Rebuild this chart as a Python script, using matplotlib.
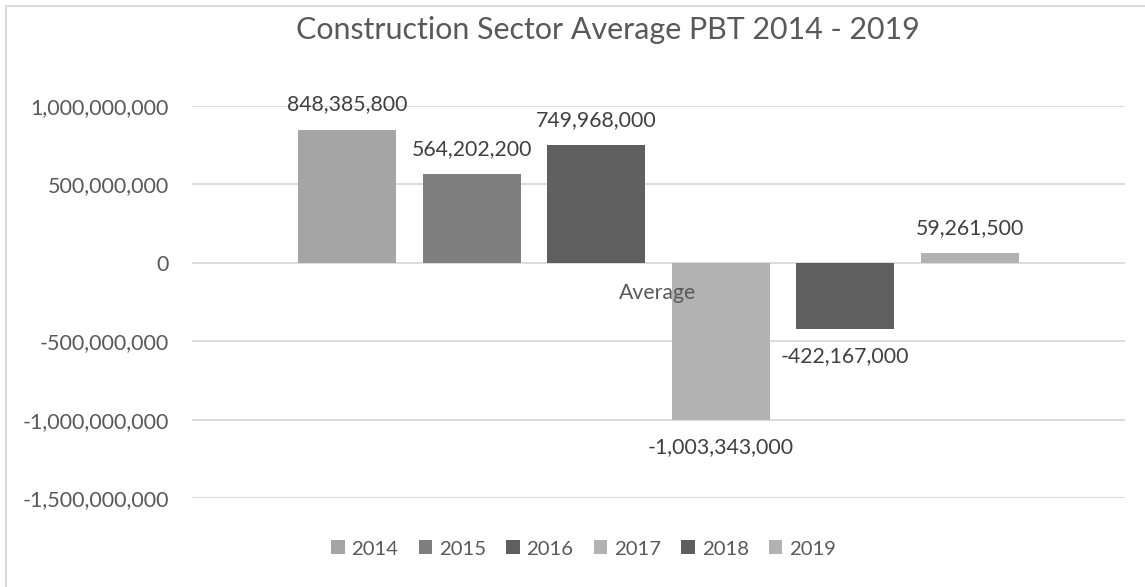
import numpy as np
import matplotlib.pyplot as plt
from matplotlib.ticker import FuncFormatter
from matplotlib.lines import Line2D

# Data
years = ['2014', '2015', '2016', '2017', '2018', '2019']
pbt = [848385800, 564202200, 749968000, -1003343000, -422167000, 59261500]
category = 'Average'
bar_colors = ['#A5A5A5', '#7F7F7F', '#5F5F5F', '#B2B2B2', '#5F5F5F', '#B2B2B2']

txt = '#595959'
grid = '#D9D9D9'
plt.rcParams['font.family'] = ['Lato', 'DejaVu Sans']

W, H = 1145, 587
fig = plt.figure(figsize=(W / 100, H / 100), dpi=100)
ax = fig.add_axes([192 / W, 1 - 498.3 / H, 933 / W, 392.6 / H])

# one category, six series side by side
step = 0.1334
width = 0.105
offsets = (np.arange(len(years)) - (len(years) - 1) / 2) * step
bars = []
for i, (yr, v) in enumerate(zip(years, pbt)):
    b = ax.bar(offsets[i], v, width=width, color=bar_colors[i], label=yr, zorder=2)
    bars.append(b)
    dy = 18 if v >= 0 else -19.5
    ax.annotate(f'{v:,}', (offsets[i], v), xytext=(0, dy), textcoords='offset points',
                ha='center', va='center', fontsize=15.3, color='#404040', zorder=4)

ax.set_xlim(-0.5, 0.5)
ax.set_ylim(-1.5e9, 1.0e9)
ax.set_yticks(np.arange(-1.5e9, 1.01e9, 0.5e9))
ax.yaxis.set_major_formatter(FuncFormatter(lambda v, p: f'{int(round(v)):,}'))
ax.tick_params(axis='y', length=0, pad=16.5, labelsize=15.5, labelcolor=txt)
ax.set_xticks([])
ax.grid(axis='y', color=grid, linewidth=1.3, zorder=0)
for s in ax.spines.values():
    s.set_visible(False)

# category label just below the zero line
ax.annotate(category, (0, 0), xytext=(-0.5, -22), textcoords='offset points',
            ha='center', va='center', fontsize=15.3, color=txt, zorder=5)

fig.text(608 / W, 1 - 30 / H, 'Construction Sector Average PBT 2014 - 2019',
         ha='center', va='center', fontsize=21.9, color=txt)

fig.legend(handles=bars, labels=years, loc='center', bbox_to_anchor=(583.5 / W, 1 - 549 / H),
           ncol=6, frameon=False, fontsize=14.6, labelcolor=txt,
           handlelength=0.67, handleheight=0.67, handletextpad=0.33, columnspacing=1.0)

# chart-area border (cropped on the right and bottom)
fig.add_artist(Line2D([5.5 / W, 5.5 / W], [0, 1 - 6 / H], color=grid, linewidth=1.3))
fig.add_artist(Line2D([5.5 / W, 1], [1 - 6 / H, 1 - 6 / H], color=grid, linewidth=1.3))

fig.savefig('out.png', dpi=100)
